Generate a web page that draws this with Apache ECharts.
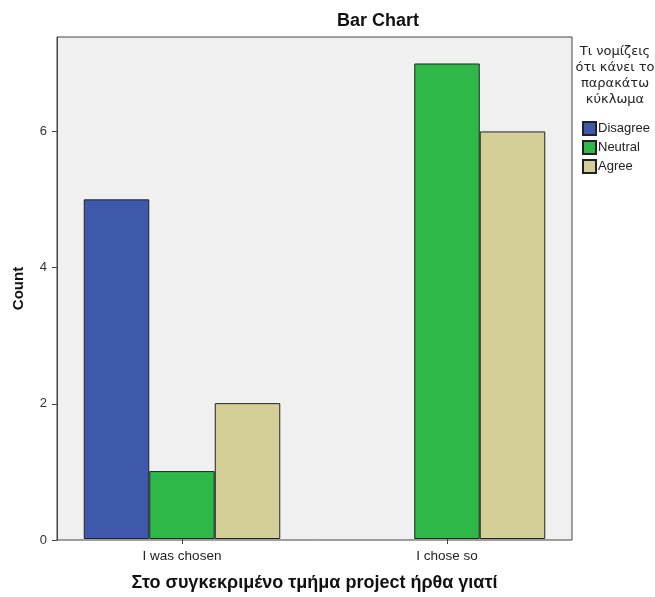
<!DOCTYPE html>
<html>
<head>
<meta charset="utf-8">
<script src="https://cdn.jsdelivr.net/npm/echarts@6/dist/echarts.min.js"></script>
<style>html,body{margin:0;padding:0;background:#fff}#c{width:655px;height:597px}</style>
</head>
<body>
<div id="c"></div>
<script>
const categories = ['I was chosen', 'I chose so'];
const seriesNames = ['Disagree', 'Neutral', 'Agree'];
const disagree = [5, null];
const neutral = [1, 7];
const agree = [2, 6];
const yTicks = [0, 2, 4, 6];
const legendTitle = 'Τι νομίζεις\nότι κάνει το\nπαρακάτω\nκύκλωμα';
const xTitle = 'Στο συγκεκριμένο τμήμα project ήρθα γιατί';
const yTitle = 'Count';
const chartTitle = 'Bar Chart';

const FONT = 'Liberation Sans, Arial, sans-serif';
const colors = ['#3E58AC', '#2EB848', '#D4CE97'];
const yMax = 7.39;

const chart = echarts.init(document.getElementById('c'), null, {renderer: 'canvas'});
const mkBar = (name, data, i) => ({
  name, type: 'bar', data, xAxisIndex: 1, yAxisIndex: 1,
  barWidth: 65.5, barGap: '0%',
  itemStyle: {color: colors[i], borderColor: '#222', borderWidth: 1},
  emphasis: {disabled: true}
});
chart.setOption({
  animation: false,
  textStyle: {fontFamily: FONT},
  title: {text: chartTitle, left: 378, top: 12, textAlign: 'center', padding: 0,
    textStyle: {fontSize: 18, fontWeight: 'bold', color: '#111', fontFamily: FONT}},
  grid: [
    {left: 57, top: 37, width: 515, height: 503, show: true, backgroundColor: '#F0F0F0', borderColor: '#444', borderWidth: 1},
    {left: 49.5, top: 37, width: 530, height: 503}
  ],
  xAxis: [
    {type: 'category', gridIndex: 0, data: categories, show: false},
    {type: 'category', gridIndex: 1, data: categories,
      axisLine: {show: false},
      axisTick: {show: true, length: 5, alignWithLabel: true, lineStyle: {color: '#444'}},
      axisLabel: {fontSize: 13.5, color: '#222', margin: 10, fontFamily: FONT},
      name: xTitle, nameLocation: 'middle', nameGap: 35,
      nameTextStyle: {fontSize: 18, fontWeight: 'bold', color: '#111', fontFamily: FONT}}
  ],
  yAxis: [
    {type: 'value', gridIndex: 0, min: 0, max: yMax,
      axisLine: {show: true, lineStyle: {color: '#444'}},
      axisTick: {show: true, length: 5, customValues: yTicks, lineStyle: {color: '#444'}},
      axisLabel: {fontSize: 13, color: '#333', margin: 10, customValues: yTicks, fontFamily: FONT},
      splitLine: {show: false},
      name: yTitle, nameLocation: 'middle', nameGap: 31, nameRotate: 90,
      nameTextStyle: {fontSize: 15, fontWeight: 'bold', color: '#111', fontFamily: FONT}},
    {type: 'value', gridIndex: 1, min: 0, max: yMax, show: false, splitLine: {show: false}}
  ],
  legend: {
    orient: 'vertical', left: 582, top: 121, padding: 0,
    itemWidth: 13, itemHeight: 13, itemGap: 4, icon: 'rect',
    textStyle: {fontSize: 13, color: '#222', padding: [0, 0, 0, -3], fontFamily: FONT},
    data: seriesNames, selectedMode: false
  },
  graphic: [{
    type: 'text', x: 615, y: 43,
    style: {text: legendTitle, fill: '#222', font: '13px DejaVu Sans, sans-serif', align: 'center', verticalAlign: 'top', lineHeight: 16.3}
  }],
  series: [
    mkBar(seriesNames[0], disagree, 0),
    mkBar(seriesNames[1], neutral, 1),
    mkBar(seriesNames[2], agree, 2)
  ]
});
</script>
</body>
</html>
